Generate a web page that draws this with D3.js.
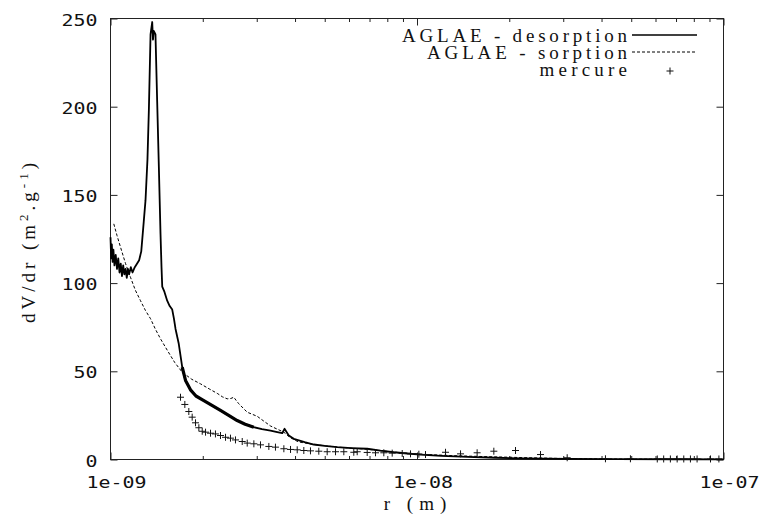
<!DOCTYPE html>
<html>
<head>
<meta charset="utf-8">
<script src="https://cdn.jsdelivr.net/npm/d3@7"></script>
<style>
  body { margin: 0; background: #fff; }
</style>
</head>
<body>
<svg id="chart" width="764" height="524"></svg>
<script>
const desorptionR = [1.000, 1.005, 1.010, 1.016, 1.022, 1.030, 1.040, 1.050, 1.060, 1.070,
  1.080, 1.090, 1.100, 1.110, 1.120, 1.130, 1.140, 1.150, 1.165, 1.180, 1.200, 1.220, 1.240,
  1.260, 1.284, 1.301, 1.320, 1.334, 1.351, 1.368, 1.376, 1.384, 1.402, 1.420, 1.438, 1.456,
  1.467, 1.475, 1.500, 1.531, 1.560, 1.590, 1.610, 1.630, 1.670, 1.714, 1.757, 1.824, 1.900,
  2.016, 2.150, 2.285, 2.430, 2.590, 2.750, 2.935, 3.120, 3.327, 3.500, 3.633, 3.696, 3.740,
  3.817, 3.963, 4.300, 4.606, 5.000, 5.492, 6.100, 6.879, 7.600, 8.402, 9.300, 10.27, 12.00,
  14.60, 18.00, 22.00, 31.00, 45.00, 70.00, 100.0];
const desorptionV = [126, 114, 122, 112, 119, 110, 116, 108, 114, 106,
  111, 104, 110, 105, 108, 103, 108, 105, 109, 106, 109, 111, 113,
  118, 135, 147, 170, 198, 241, 248, 238, 243, 241, 203, 166, 128,
  109, 98, 95, 90, 87, 85, 80, 74, 65.6, 52.3, 44.8, 39.5, 36,
  33.4, 30.5, 27.8, 25, 22.1, 20, 18.3, 17.2, 16.4, 15.5, 14.9, 17.4, 16,
  13.6, 11.7, 9.8, 8.5, 7.7, 7.0, 6.5, 6.1, 5.0, 4.1, 3.4, 2.8, 2.1,
  1.5, 1.0, 0.6, 0.3, 0.2, 0.15, 0.1];

const sorptionR = [1.025, 1.050, 1.078, 1.120, 1.162, 1.205, 1.253, 1.300, 1.351, 1.400,
  1.456, 1.531, 1.620, 1.714, 1.840, 1.966, 2.100, 2.229, 2.320, 2.403, 2.470, 2.525, 2.570,
  2.622, 2.793, 3.010, 3.150, 3.327, 3.500, 3.677, 3.850, 4.100, 4.606, 5.492, 6.879, 8.402,
  10.27, 13.00, 17.00, 22.00, 31.00, 45.00, 70.00, 100.0];
const sorptionV = [133.6, 127, 120.4, 111, 103.3, 96, 90, 84.5, 79.8, 74,
  68.4, 62, 55, 49.5, 45.5, 42.9, 40, 37.5, 35.5, 34.4, 34.6, 35.3, 33.5,
  31.6, 26.8, 24.5, 22, 19, 17.2, 15.5, 12.5, 10, 8.5, 7.0, 5.8, 4.2,
  3.0, 2.2, 1.6, 1.1, 0.5, 0.25, 0.15, 0.1];

const mercureR = [1.692, 1.748, 1.801, 1.847, 1.894, 1.942, 1.992, 2.042, 2.120, 2.200,
  2.285, 2.373, 2.463, 2.557, 2.690, 2.793, 2.936, 3.086, 3.286, 3.453, 3.678, 3.867, 4.066,
  4.273, 4.492, 4.782, 5.093, 5.422, 5.771, 6.220, 6.381, 6.879, 7.322, 7.794, 8.300, 8.948,
  9.524, 10.14, 10.66, 12.39, 13.87, 15.71, 17.81, 20.96, 25.29, 30.90, 41.20, 49.70, 60.8,
  63.8, 67.1, 70.6, 74.2, 78.0, 82.0, 90.7, 96.6];
const mercureV = [35.3, 31.2, 27.2, 24, 20.8, 18, 16, 15.5, 14.9, 14.5,
  13.6, 12.6, 12.1, 11.1, 10.2, 9.3, 8.9, 8.3, 7.4, 7.0, 6.1, 5.7, 5.5,
  5.1, 4.9, 4.7, 4.4, 4.4, 4.4, 4.1, 4.4, 4.0, 3.8, 3.8, 3.6, 3.4,
  3.2, 3.0, 2.8, 4.1, 3.2, 3.8, 4.7, 5.1, 2.8, 1.0, 0.4, 0.4, 0.3,
  0.3, 0.3, 0.3, 0.3, 0.3, 0.3, 0.3, 0.3];

const seriesNames = ['AGLAE - desorption', 'AGLAE - sorption', 'mercure'];
const xTickValues = [1e-9, 1e-8, 1e-7];
const xTickLabels = ['1e-09', '1e-08', '1e-07'];
const yTickValues = [0, 50, 100, 150, 200, 250];

const svg = d3.select('#chart');
const width = 764;
const height = 524;
const margin = { top: 18, right: 41, bottom: 65, left: 110 };
const innerWidth = width - margin.left - margin.right;
const innerHeight = height - margin.top - margin.bottom;

const tickFont = 'DejaVu Sans Mono';
const textFont = 'Liberation Serif';
const tickCharW = 12;   // tick labels ~12px per character
const charW = 12.5;     // the typewriter labels ~12.5px per character

const toPairs = (rs, vs) => rs.map((r, i) => [r * 1e-9, vs[i]]);
const desorption = toPairs(desorptionR, desorptionV);
const sorption = toPairs(sorptionR, sorptionV);
const mercure = toPairs(mercureR, mercureV);

const xScale = d3.scaleLog().domain([1e-9, 1e-7]).range([0, innerWidth]);
const yScale = d3.scaleLinear().domain([0, 250]).range([innerHeight, 0]);

const g = svg.append('g')
  .attr('transform', 'translate(' + (margin.left + 0.5) + ',' + (margin.top + 0.5) + ')');

// minor log ticks 2..9 in each decade
const minorX = [];
[1e-9, 1e-8].forEach(dec => { for (let k = 2; k <= 9; k++) minorX.push(k * dec); });

function cleanAxis(sel) {
  sel.select('.domain').remove();
  sel.selectAll('line').attr('stroke', '#222');
}

function tickText(sel) {
  sel.attr('dy', null)
    .style('font-family', tickFont)
    .style('font-size', '16.5px')
    .attr('fill', '#111')
    .attr('textLength', function() { return this.textContent.length * tickCharW; })
    .attr('lengthAdjust', 'spacingAndGlyphs');
}

// bottom axis with labels
const gx = g.append('g')
  .attr('transform', `translate(0,${innerHeight})`)
  .call(d3.axisBottom(xScale).tickValues(xTickValues).tickSize(-7)
    .tickFormat((d, i) => xTickLabels[i]));
cleanAxis(gx);
gx.selectAll('text').attr('x', 5.5).attr('y', 28).call(tickText);

g.append('g').attr('transform', `translate(0,${innerHeight})`)
  .call(d3.axisBottom(xScale).tickValues(minorX).tickSize(-3.5).tickFormat(''))
  .call(cleanAxis);

// top mirror ticks
g.append('g').call(d3.axisTop(xScale).tickValues(xTickValues).tickSize(-7).tickFormat(''))
  .call(cleanAxis);
g.append('g').call(d3.axisTop(xScale).tickValues(minorX).tickSize(-3.5).tickFormat(''))
  .call(cleanAxis);

// left axis
const gy = g.append('g')
  .call(d3.axisLeft(yScale).tickValues(yTickValues).tickSize(-7));
cleanAxis(gy);
gy.selectAll('text').attr('x', -13).attr('y', 6.5).call(tickText);

// right mirror ticks
g.append('g').attr('transform', `translate(${innerWidth},0)`)
  .call(d3.axisRight(yScale).tickValues(yTickValues).tickSize(-7).tickFormat(''))
  .call(cleanAxis);

// frame
g.append('rect')
  .attr('width', innerWidth)
  .attr('height', innerHeight)
  .attr('fill', 'none')
  .attr('stroke', '#222')
  .attr('stroke-width', 1);

const line = d3.line()
  .x(d => xScale(d[0]))
  .y(d => yScale(d[1]));

g.append('path')
  .datum(sorption)
  .attr('d', line)
  .attr('fill', 'none')
  .attr('stroke', '#000')
  .attr('stroke-width', 1)
  .attr('stroke-dasharray', '3,2');

g.append('path')
  .datum(desorption)
  .attr('d', line)
  .attr('fill', 'none')
  .attr('stroke', '#000')
  .attr('stroke-width', 1.8)
  .attr('stroke-linejoin', 'round');

// the noisy stretch of the desorption curve reads as a thicker band
g.append('path')
  .datum(desorption.filter(d => d[0] >= 1.7e-9 && d[0] <= 3.0e-9))
  .attr('d', line)
  .attr('fill', 'none')
  .attr('stroke', '#000')
  .attr('stroke-width', 3.2)
  .attr('stroke-linejoin', 'round');

const plus = 'M-3.5,0H3.5M0,-3.5V3.5';
g.append('g').selectAll('path')
  .data(mercure)
  .enter()
  .append('path')
  .attr('transform', d => `translate(${xScale(d[0])},${yScale(d[1])})`)
  .attr('d', plus)
  .attr('stroke', '#111')
  .attr('stroke-width', 1)
  .attr('fill', 'none');

// typewriter-like text: serif glyphs spread to a fixed pitch
function typeText(sel, str) {
  return sel
    .style('font-family', textFont)
    .style('font-size', '19px')
    .attr('fill', '#111')
    .attr('textLength', str.length * charW)
    .attr('lengthAdjust', 'spacing')
    .text(str);
}

typeText(svg.append('text')
  .attr('x', 415).attr('y', 510)
  .attr('text-anchor', 'middle'), 'r (m)');

const yLabel = svg.append('text')
  .attr('transform', 'translate(35,241) rotate(-90)')
  .attr('text-anchor', 'middle')
  .style('font-family', textFont)
  .style('font-size', '19px')
  .attr('fill', '#111')
  .style('letter-spacing', '4px');
yLabel.append('tspan').text('dV/dr (m');
yLabel.append('tspan').attr('dy', -7).style('font-size', '13px').text('2');
yLabel.append('tspan').attr('dy', 7).text('.g');
yLabel.append('tspan').attr('dy', -7).style('font-size', '13px').text('-1');
yLabel.append('tspan').attr('dy', 7).text(')');

// legend
const legend = svg.append('g');
const legendBase = [42, 59, 76];
seriesNames.forEach((name, i) => {
  typeText(legend.append('text')
    .attr('x', 627).attr('y', legendBase[i])
    .attr('text-anchor', 'end'), name);
});
legend.append('line')
  .attr('x1', 632).attr('x2', 697).attr('y1', 35).attr('y2', 35)
  .attr('stroke', '#000').attr('stroke-width', 1.3);
legend.append('line')
  .attr('x1', 632).attr('x2', 697).attr('y1', 52).attr('y2', 52)
  .attr('stroke', '#000').attr('stroke-width', 1).attr('stroke-dasharray', '3,2');
legend.append('path')
  .attr('transform', 'translate(670,71)')
  .attr('d', plus)
  .attr('stroke', '#111')
  .attr('fill', 'none');
</script>
</body>
</html>
